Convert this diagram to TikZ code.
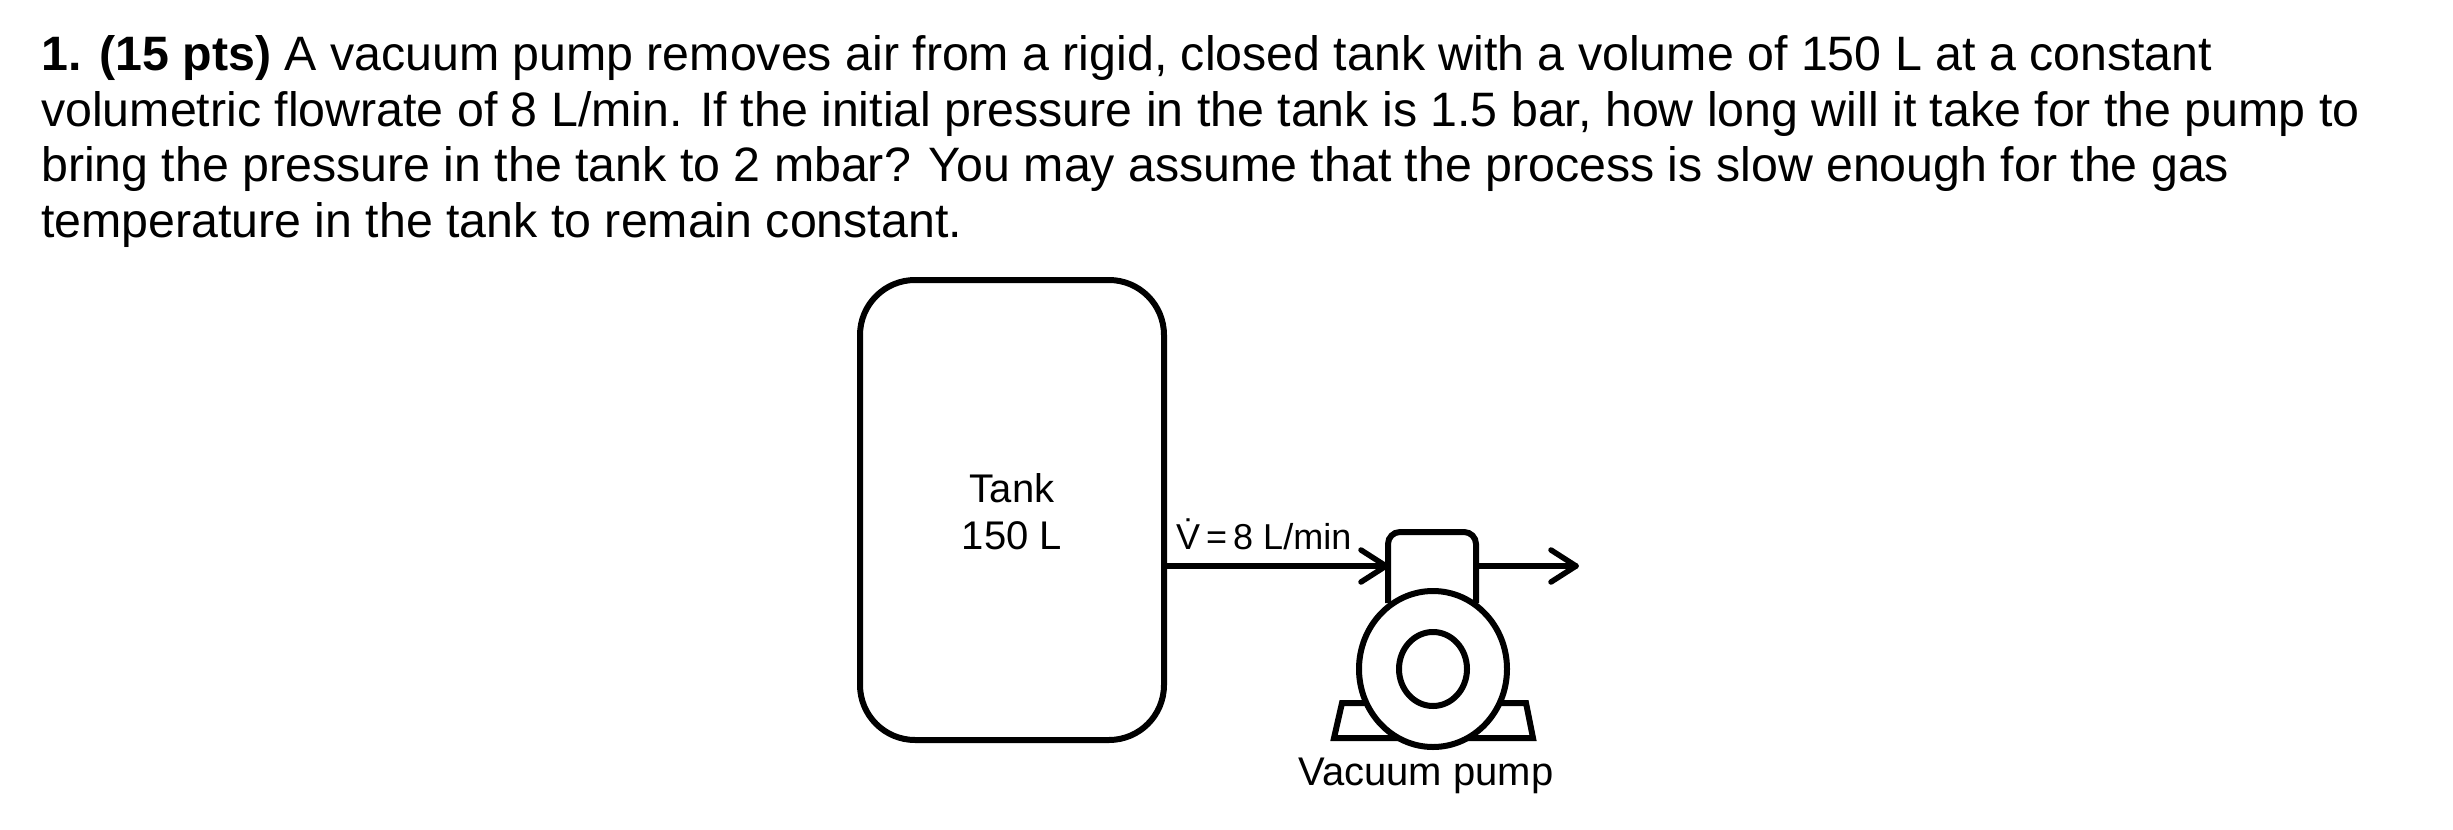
\documentclass[tikz,border=0pt]{standalone}
\usepackage{fontspec}
\setmainfont{Liberation Sans}
\begin{document}
\begin{tikzpicture}[x=1pt,y=-1pt,
  thick line/.style={line width=6pt},
  q/.style={anchor=base west,inner sep=0pt,font=\fontsize{48.3}{56}\selectfont},
  lbl/.style={inner sep=0pt,font=\fontsize{40}{47}\selectfont},
  arr/.style={line width=5.5pt,line cap=round,line join=round}]
\useasboundingbox (0,0) rectangle (2453,830);
\node[q] (l1) at (41,70) {\textbf{1. (15 pts)} A vacuum pump removes air from a rigid, closed tank with a volume of 150 L at a constant};
\node[q] (l2) at (41,126) {volumetric flowrate of 8 L/min. If the initial pressure in the tank is 1.5 bar, how long will it take for the pump to};
\node[q] (l3) at (41,181) {bring the pressure in the tank to 2 mbar? You may assume that the process is slow enough for the gas};
\node[q] (l4) at (41,237) {temperature in the tank to remain constant.};
% tank
\draw[thick line,rounded corners=55pt] (860,280) rectangle (1164,740);
\node[lbl,align=center] (tank) at (1012,512) {Tank\\150 L};
% pump
\coordinate (in) at (1386,566);
\coordinate (out) at (1576,566);
\draw[thick line,rounded corners=12pt] (1388,603) -- (1388,532) -- (1476,532) -- (1476,603);
\draw[thick line,fill=white] (1334,738) -- (1342,703) -- (1526,703) -- (1533,738) -- cycle;
\draw[thick line,fill=white] (1433,669) ellipse (74 and 78);
\draw[thick line] (1433,669) ellipse (34 and 37);
\coordinate (tankout) at (1164,566);
\draw[arr] (tankout) -- (in);
\draw[arr] (in) ++(-25,-16) -- (in) -- ++(-25,16);
\draw[arr] (1476,566) -- (out);
\draw[arr] (out) ++(-25,-16) -- (out) -- ++(-25,16);
\node[lbl,anchor=base west,font=\fontsize{36}{44}\selectfont] (flow) at (1176,549) {\.{V}\,=\,8 L/min};
\node[lbl] (pumplbl) at (1426,776) {Vacuum pump};
\end{tikzpicture}
\end{document}
